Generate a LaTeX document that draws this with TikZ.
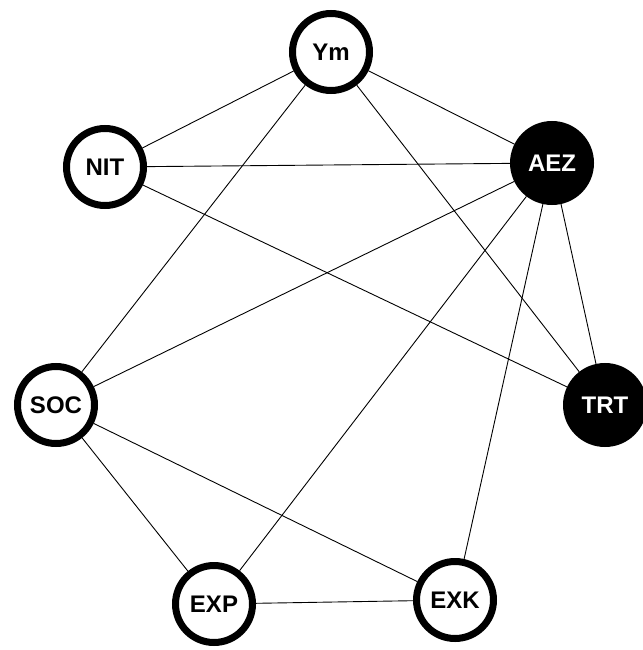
\documentclass[tikz,border=0pt]{standalone}
\usepackage{fontspec}
\setmainfont{Liberation Sans}
\begin{document}
\begin{tikzpicture}[x=1pt,y=-1pt,
  wnode/.style={circle,draw=black,fill=white,line width=7pt,minimum size=77pt,inner sep=0pt,font=\fontsize{24}{24}\selectfont\bfseries},
  bnode/.style={circle,draw=black,fill=black,text=white,line width=7pt,minimum size=77pt,inner sep=0pt,font=\fontsize{24}{24}\selectfont\bfseries},
  edge/.style={draw=black,line width=0.9pt}]
\useasboundingbox (0,0) rectangle (642,650);
\node[wnode] (ym) at (331,52) {Ym};
\node[wnode] (nit) at (105,167) {NIT};
\node[bnode] (aez) at (552,163) {AEZ};
\node[wnode] (soc) at (56,405) {SOC};
\node[bnode] (trt) at (605,405) {TRT};
\node[wnode] (exp) at (214,604) {EXP};
\node[wnode] (exk) at (455,600) {EXK};
\draw[edge] (ym) -- (nit);
\draw[edge] (ym) -- (aez);
\draw[edge] (ym) -- (soc);
\draw[edge] (ym) -- (trt);
\draw[edge] (nit) -- (aez);
\draw[edge] (nit) -- (trt);
\draw[edge] (aez) -- (soc);
\draw[edge] (aez) -- (exp);
\draw[edge] (aez) -- (exk);
\draw[edge] (aez) -- (trt);
\draw[edge] (soc) -- (exp);
\draw[edge] (soc) -- (exk);
\draw[edge] (exp) -- (exk);
\end{tikzpicture}
\end{document}
